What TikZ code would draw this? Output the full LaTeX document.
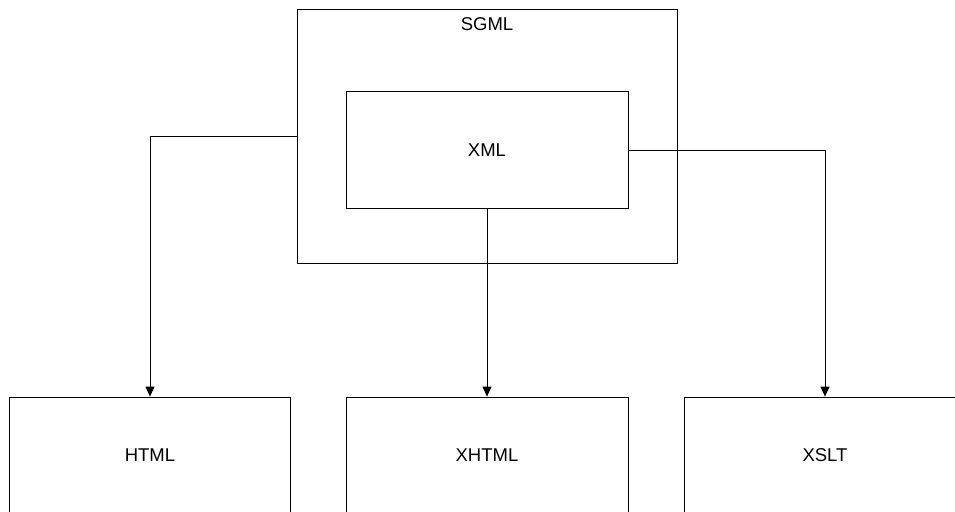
\documentclass[tikz,border=0pt]{standalone}
\usepackage{fontspec}
\setmainfont{Liberation Sans}
\usetikzlibrary{arrows.meta}
\begin{document}
\begin{tikzpicture}[x=1pt,y=-1pt,
    box/.style={draw, line width=0.8pt, minimum width=281pt, minimum height=117pt,
      inner sep=0pt, font=\fontsize{18.5}{22}\selectfont},
    link/.style={draw, line width=0.8pt, -{Triangle[length=10pt,width=9pt]}}]
    \useasboundingbox (0,0) rectangle (955,511);
    \clip (0,0) rectangle (955,511);
    % languages on top
    \node[box, minimum width=380pt, minimum height=254pt] (sgml) at (487,136) {};
    \node[font=\fontsize{18.5}{22}\selectfont] (sgmltitle) at (487,24) {SGML};
    \node[box, minimum width=282pt] (xml) at (487,150) {XML};
    % derived languages
    \node[box, minimum height=116pt] (html) at (150,455) {HTML};
    \node[box, minimum width=282pt, minimum height=116pt] (xhtml) at (487,455) {XHTML};
    \node[box, minimum width=282pt, minimum height=116pt] (xslt) at (825,455) {XSLT};
    \draw[link] (sgml.west) -| (html.north);
    \draw[link] (xml.south) -- (xhtml.north);
    \draw[link] (xml.east) -| (xslt.north);
\end{tikzpicture}
\end{document}
